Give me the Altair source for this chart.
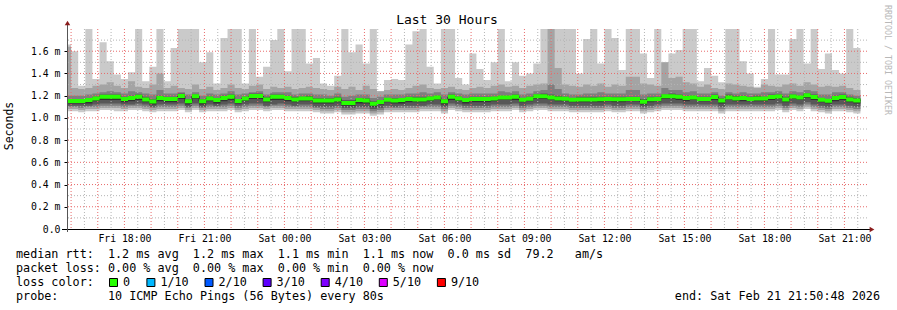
import altair as alt
import pandas as pd

# ---------------- data (values in ms) ----------------
MEDIAN = [1.153,1.153,1.153,1.160,1.175,1.190,1.190,1.190,1.170,1.180,
          1.190,1.166,1.148,1.178,1.171,1.171,1.198,1.150,1.195,1.150,
          1.175,1.160,1.178,1.190,1.153,1.175,1.198,1.198,1.166,1.190,
          1.190,1.180,1.166,1.175,1.175,1.157,1.157,1.157,1.166,1.135,
          1.135,1.160,1.157,1.127,1.142,1.163,1.157,1.160,1.169,1.166,
          1.166,1.175,1.184,1.150,1.190,1.175,1.160,1.169,1.170,1.169,
          1.175,1.184,1.184,1.190,1.163,1.172,1.195,1.195,1.184,1.175,
          1.172,1.163,1.166,1.166,1.166,1.168,1.171,1.168,1.168,1.171,
          1.171,1.145,1.168,1.171,1.195,1.195,1.190,1.178,1.184,1.171,
          1.171,1.187,1.157,1.184,1.175,1.178,1.171,1.175,1.175,1.187,
          1.193,1.166,1.193,1.184,1.204,1.187,1.163,1.154,1.178,1.187,
          1.166,1.157]

P10 = [1.66,1.60,1.29,1.80,1.35,1.68,1.51,1.39,1.35,1.41,
       1.80,1.33,1.46,1.80,1.33,1.63,1.80,1.80,1.80,1.50,
       1.59,1.31,1.72,1.80,1.80,1.31,1.80,1.37,1.46,1.70,
       1.80,1.42,1.80,1.80,1.49,1.54,1.31,1.29,1.38,1.80,
       1.59,1.66,1.49,1.80,1.24,1.34,1.35,1.34,1.66,1.78,
       1.80,1.46,1.31,1.80,1.80,1.36,1.30,1.58,1.44,1.34,
       1.50,1.80,1.33,1.50,1.38,1.40,1.49,1.80,1.80,1.80,
       1.80,1.80,1.40,1.71,1.80,1.49,1.80,1.72,1.43,1.80,
       1.80,1.58,1.36,1.80,1.50,1.58,1.61,1.80,1.80,1.33,
       1.45,1.38,1.32,1.80,1.80,1.51,1.40,1.28,1.35,1.80,
       1.39,1.39,1.71,1.80,1.49,1.80,1.44,1.58,1.43,1.40,
       1.80,1.63]

P9 = [1.64,1.27,1.26,1.27,1.29,1.30,1.32,1.29,1.27,1.33,
      1.28,1.27,1.30,1.40,1.27,1.29,1.27,1.26,1.30,1.26,
      1.28,1.25,1.27,1.30,1.27,1.26,1.29,1.30,1.26,1.28,
      1.27,1.28,1.26,1.27,1.28,1.27,1.26,1.25,1.28,1.26,
      1.28,1.25,1.29,1.26,1.24,1.25,1.26,1.25,1.27,1.29,
      1.30,1.27,1.26,1.27,1.28,1.26,1.25,1.27,1.28,1.27,
      1.29,1.30,1.28,1.29,1.27,1.29,1.30,1.31,1.80,1.45,
      1.30,1.29,1.28,1.30,1.29,1.31,1.28,1.30,1.29,1.37,
      1.37,1.31,1.30,1.29,1.50,1.36,1.37,1.32,1.31,1.28,
      1.30,1.27,1.26,1.31,1.30,1.29,1.28,1.27,1.30,1.29,
      1.28,1.30,1.31,1.29,1.32,1.30,1.28,1.29,1.28,1.29,
      1.27,1.25]

P8 = [1.20,1.20,1.20,1.21,1.22,1.23,1.24,1.23,1.22,1.24,
      1.23,1.22,1.21,1.25,1.22,1.22,1.23,1.21,1.23,1.20,
      1.22,1.21,1.22,1.24,1.21,1.22,1.23,1.24,1.21,1.23,
      1.23,1.23,1.21,1.22,1.22,1.21,1.21,1.20,1.22,1.19,
      1.20,1.21,1.21,1.18,1.19,1.21,1.21,1.21,1.22,1.22,
      1.23,1.22,1.23,1.21,1.23,1.22,1.21,1.22,1.22,1.22,
      1.22,1.24,1.23,1.24,1.21,1.22,1.24,1.25,1.30,1.26,
      1.22,1.21,1.21,1.22,1.22,1.23,1.22,1.22,1.22,1.25,
      1.25,1.21,1.22,1.22,1.27,1.25,1.25,1.23,1.24,1.22,
      1.22,1.23,1.20,1.23,1.22,1.23,1.22,1.22,1.23,1.23,
      1.24,1.22,1.24,1.23,1.25,1.24,1.21,1.21,1.23,1.23,
      1.21,1.20]

P7 = [1.17,1.17,1.17,1.18,1.19,1.21,1.21,1.21,1.19,1.20,
      1.21,1.19,1.17,1.20,1.19,1.19,1.22,1.17,1.21,1.17,
      1.19,1.18,1.20,1.21,1.17,1.19,1.22,1.22,1.19,1.21,
      1.21,1.20,1.19,1.19,1.20,1.18,1.18,1.18,1.19,1.16,
      1.16,1.18,1.18,1.15,1.16,1.18,1.18,1.18,1.19,1.19,
      1.19,1.19,1.20,1.17,1.21,1.19,1.18,1.19,1.19,1.19,
      1.19,1.20,1.20,1.21,1.18,1.19,1.21,1.22,1.21,1.20,
      1.19,1.18,1.19,1.19,1.19,1.19,1.19,1.19,1.19,1.19,
      1.19,1.17,1.19,1.19,1.21,1.22,1.21,1.20,1.20,1.19,
      1.19,1.21,1.18,1.21,1.20,1.20,1.19,1.20,1.19,1.21,
      1.21,1.19,1.21,1.20,1.22,1.21,1.18,1.17,1.20,1.21,
      1.19,1.18]

P6 = [1.16,1.16,1.16,1.17,1.18,1.20,1.20,1.20,1.18,1.19,
      1.20,1.18,1.16,1.19,1.18,1.18,1.21,1.16,1.20,1.16,
      1.18,1.17,1.19,1.20,1.16,1.18,1.21,1.21,1.18,1.20,
      1.20,1.19,1.18,1.18,1.19,1.17,1.17,1.17,1.18,1.15,
      1.15,1.17,1.17,1.14,1.15,1.17,1.17,1.17,1.18,1.18,
      1.18,1.18,1.19,1.16,1.20,1.18,1.17,1.18,1.18,1.18,
      1.18,1.19,1.19,1.20,1.17,1.18,1.20,1.21,1.19,1.19,
      1.18,1.17,1.18,1.18,1.18,1.18,1.18,1.18,1.18,1.18,
      1.18,1.16,1.18,1.18,1.20,1.21,1.20,1.19,1.19,1.18,
      1.18,1.20,1.17,1.19,1.19,1.19,1.18,1.19,1.18,1.20,
      1.20,1.18,1.20,1.19,1.21,1.20,1.17,1.16,1.19,1.20,
      1.18,1.17]

P5 = [1.13,1.13,1.13,1.13,1.15,1.16,1.16,1.16,1.14,1.15,
      1.16,1.14,1.12,1.15,1.14,1.14,1.17,1.12,1.17,1.12,
      1.15,1.13,1.15,1.16,1.13,1.15,1.17,1.17,1.14,1.16,
      1.16,1.15,1.14,1.15,1.15,1.13,1.13,1.13,1.14,1.11,
      1.11,1.13,1.13,1.10,1.12,1.14,1.13,1.13,1.14,1.14,
      1.14,1.15,1.16,1.12,1.16,1.15,1.13,1.14,1.14,1.14,
      1.15,1.16,1.16,1.16,1.14,1.15,1.17,1.17,1.16,1.15,
      1.15,1.14,1.14,1.14,1.14,1.14,1.15,1.14,1.14,1.15,
      1.15,1.12,1.14,1.15,1.17,1.17,1.16,1.15,1.16,1.15,
      1.15,1.16,1.13,1.16,1.15,1.15,1.15,1.15,1.15,1.16,
      1.17,1.14,1.17,1.16,1.18,1.16,1.14,1.13,1.15,1.16,
      1.14,1.13]

P4 = [1.11,1.11,1.11,1.11,1.12,1.13,1.13,1.13,1.12,1.12,
      1.13,1.12,1.10,1.12,1.12,1.12,1.13,1.10,1.13,1.10,
      1.12,1.11,1.12,1.13,1.11,1.12,1.13,1.13,1.11,1.12,
      1.13,1.12,1.11,1.12,1.12,1.10,1.10,1.10,1.11,1.09,
      1.09,1.10,1.10,1.08,1.09,1.11,1.10,1.11,1.11,1.11,
      1.11,1.12,1.12,1.10,1.13,1.12,1.11,1.11,1.11,1.11,
      1.12,1.12,1.12,1.13,1.11,1.12,1.13,1.13,1.12,1.12,
      1.12,1.11,1.11,1.11,1.11,1.11,1.12,1.11,1.11,1.12,
      1.12,1.10,1.11,1.12,1.13,1.13,1.13,1.12,1.12,1.12,
      1.12,1.12,1.10,1.12,1.12,1.12,1.12,1.12,1.12,1.12,
      1.13,1.11,1.13,1.12,1.14,1.12,1.11,1.10,1.12,1.12,
      1.11,1.10]

P3 = [1.10,1.10,1.09,1.10,1.10,1.11,1.11,1.11,1.10,1.11,
      1.11,1.10,1.09,1.10,1.10,1.10,1.11,1.09,1.11,1.09,
      1.10,1.10,1.10,1.11,1.09,1.10,1.11,1.11,1.10,1.11,
      1.11,1.10,1.10,1.10,1.10,1.09,1.08,1.08,1.09,1.07,
      1.07,1.08,1.08,1.06,1.07,1.09,1.09,1.09,1.09,1.09,
      1.10,1.10,1.10,1.08,1.11,1.10,1.09,1.09,1.09,1.09,
      1.10,1.10,1.10,1.11,1.09,1.10,1.11,1.11,1.10,1.10,
      1.10,1.09,1.09,1.09,1.09,1.09,1.10,1.09,1.09,1.10,
      1.10,1.08,1.09,1.10,1.11,1.11,1.11,1.10,1.10,1.10,
      1.10,1.10,1.08,1.10,1.10,1.10,1.10,1.10,1.10,1.10,
      1.11,1.09,1.11,1.10,1.12,1.10,1.09,1.08,1.10,1.10,
      1.09,1.08]

P2 = [1.08,1.08,1.07,1.08,1.08,1.09,1.09,1.09,1.08,1.09,
      1.09,1.08,1.07,1.08,1.08,1.08,1.09,1.07,1.09,1.07,
      1.08,1.08,1.08,1.09,1.07,1.08,1.09,1.09,1.08,1.09,
      1.09,1.08,1.08,1.08,1.08,1.07,1.06,1.06,1.07,1.05,
      1.05,1.06,1.06,1.04,1.05,1.07,1.07,1.07,1.07,1.07,
      1.08,1.08,1.08,1.06,1.09,1.08,1.07,1.07,1.07,1.07,
      1.08,1.08,1.08,1.09,1.07,1.08,1.09,1.09,1.08,1.08,
      1.08,1.07,1.07,1.07,1.07,1.07,1.08,1.07,1.07,1.08,
      1.08,1.06,1.07,1.08,1.09,1.09,1.09,1.08,1.08,1.08,
      1.08,1.08,1.06,1.08,1.08,1.08,1.08,1.08,1.08,1.08,
      1.09,1.07,1.09,1.08,1.10,1.08,1.07,1.06,1.08,1.08,
      1.07,1.06]

P1 = [1.06,1.06,1.05,1.06,1.06,1.07,1.07,1.06,1.06,1.07,
      1.07,1.06,1.05,1.06,1.06,1.06,1.07,1.05,1.07,1.05,
      1.06,1.06,1.06,1.07,1.05,1.06,1.07,1.07,1.06,1.07,
      1.07,1.06,1.06,1.06,1.06,1.05,1.04,1.04,1.05,1.03,
      1.03,1.04,1.04,1.02,1.03,1.05,1.05,1.05,1.05,1.05,
      1.06,1.06,1.06,1.04,1.07,1.06,1.05,1.05,1.05,1.05,
      1.06,1.06,1.06,1.07,1.05,1.06,1.07,1.07,1.06,1.06,
      1.06,1.05,1.05,1.05,1.05,1.05,1.06,1.05,1.05,1.06,
      1.06,1.04,1.05,1.06,1.07,1.07,1.07,1.06,1.06,1.06,
      1.06,1.06,1.04,1.06,1.06,1.06,1.06,1.06,1.06,1.06,
      1.07,1.05,1.07,1.06,1.08,1.06,1.05,1.04,1.06,1.06,
      1.05,1.04]

Y_TICKS = [0.0, 0.2, 0.4, 0.6, 0.8, 1.0, 1.2, 1.4, 1.6]
LOSS_LABELS = ["0", "1/10", "2/10", "3/10", "4/10", "5/10", "9/10"]
LOSS_COLORS = ["#26ff00", "#00b8ff", "#0059ff", "#5e00ff", "#7e00ff", "#dd00ff", "#ff0000"]

TITLE = "Last 30 Hours"
Y_TITLE = "Seconds"
WATERMARK = "RRDTOOL / TOBI OETIKER"
LINE1 = "median rtt:  1.2 ms avg  1.2 ms max  1.1 ms min  1.1 ms now  0.0 ms sd  79.2   am/s"
LINE2 = "packet loss: 0.00 % avg  0.00 % max  0.00 % min  0.00 % now"
LINE3 = "loss color:"
LINE4 = "probe:       10 ICMP Echo Pings (56 Bytes) every 80s"
END_TEXT = "end: Sat Feb 21 21:50:48 2026"

# ---------------- build tables ----------------
N = len(MEDIAN)
step = pd.Timedelta(minutes=16)
t_first = pd.Timestamp("2026-02-20 15:44:00")
t_align = pd.Timestamp("2026-02-20 16:00:00")
starts = [t_first] + [t_align + step * (k - 1) for k in range(1, N)]
times = starts + [starts[-1] + step]
fmt = "%Y-%m-%dT%H:%M:%S"

series = {"p1": P1, "p2": P2, "p3": P3, "p4": P4, "p5": P5, "p6": P6,
          "p7": P7, "p8": P8, "p9": P9, "p10": P10, "m": MEDIAN}
rows = []
for i, t in enumerate(times):
    j = min(i, N - 1)
    r = {"t": t.strftime(fmt)}
    for k, v in series.items():
        r[k] = v[j]
    rows.append(r)
df = pd.DataFrame(rows)

hours = pd.date_range("2026-02-20 16:00", "2026-02-21 21:00", freq="1h")
halves = pd.date_range("2026-02-20 16:30", "2026-02-21 21:30", freq="1h")
vmajor = pd.DataFrame({"t": [h.strftime(fmt) for h in hours]})
vminor = pd.DataFrame({"t": [h.strftime(fmt) for h in halves]})
hmajor = pd.DataFrame({"v": [0.2, 0.4, 0.6, 0.8, 1.0, 1.2, 1.4, 1.6]})
hminor = pd.DataFrame({"v": [0.1, 0.3, 0.5, 0.7, 0.9, 1.1, 1.3, 1.5, 1.7]})

MONO = "DejaVu Sans Mono"


def dt(d, h, m=0, s=0):
    return alt.DateTime(year=2026, month=2, date=d, hours=h, minutes=m, seconds=s)


xscale = alt.Scale(domain=[dt(20, 15, 50, 48), dt(21, 21, 50, 48)])
yscale = alt.Scale(domain=[0, 1.8], nice=False, zero=False)
xvals = [dt(20, 18), dt(20, 21)] + [dt(21, h) for h in (0, 3, 6, 9, 12, 15, 18, 21)]

xaxis = alt.Axis(values=xvals, format="%a %H:%M", labelFont=MONO, labelFontSize=9.8,
                 labelColor="#000000", domain=False, ticks=False, grid=False,
                 labelPadding=4, title=None, labelFlush=False, labelOverlap=False)
yaxis = alt.Axis(values=Y_TICKS,
                 labelExpr="datum.value == 0 ? '0.0\u00a0\u00a0' : format(datum.value, '.1f') + '\u00a0m'",
                 labelFont=MONO, labelFontSize=9.8, labelColor="#000000", domain=False,
                 tickSize=3, tickColor="#000000", grid=False, labelPadding=4, title=None,
                 labelFlush=False, labelOverlap=False)

X = lambda f: alt.X(f, scale=xscale, axis=xaxis)
Y = lambda f: alt.Y(f, scale=yscale, axis=yaxis)

base = alt.Chart(df)
layers = []
bands = [("p1", "p10", "#cacaca"), ("p2", "p9", "#a4a4a4"), ("p3", "p8", "#7e7e7e"),
         ("p4", "p7", "#585858"), ("p5", "p6", "#323232")]
for lo, hi, col in bands:
    layers.append(base.mark_area(interpolate="step-after", color=col, clip=True).encode(
        x=X("t:T"), y=Y(f"{lo}:Q"), y2=alt.Y2(f"{hi}:Q")))

# grid (drawn over the smoke, as rrdtool does)
layers.append(alt.Chart(hminor).mark_rule(color="#b4b4b4", strokeDash=[1, 2], strokeWidth=1).encode(
    y=Y("v:Q")))
layers.append(alt.Chart(vminor).mark_rule(color="#b4b4b4", strokeDash=[1, 2], strokeWidth=1).encode(
    x=X("t:T")))
layers.append(alt.Chart(hmajor).mark_rule(color="#e86a6a", strokeDash=[1, 2], strokeWidth=1).encode(
    y=Y("v:Q")))
layers.append(alt.Chart(vmajor).mark_rule(color="#e86a6a", strokeDash=[1, 2], strokeWidth=1).encode(
    x=X("t:T")))

# median: thin dark step line + loss-coloured band
layers.append(base.mark_line(interpolate="step-after", color="#202020", strokeWidth=1, clip=True).encode(
    x=X("t:T"), y=Y("m:Q")))
layers.append(base.transform_calculate(mlo="datum.m - 0.018", mhi="datum.m + 0.018")
              .mark_area(interpolate="step-after", color=LOSS_COLORS[0], clip=True).encode(
    x=X("t:T"), y=Y("mlo:Q"), y2=alt.Y2("mhi:Q")))

one = alt.Chart(pd.DataFrame({"a": [0]}))

# axes lines and arrows
layers.append(one.mark_rule(color="#000000", strokeWidth=1).encode(
    x=alt.value(-5), x2=alt.value(803), y=alt.value(200.5)))
layers.append(one.mark_rule(color="#555555", strokeWidth=1).encode(
    x=alt.value(0.5), y=alt.value(-4), y2=alt.value(203)))
layers.append(one.mark_point(shape="triangle-up", filled=True, color="#8b1c1c", size=30, opacity=1).encode(
    x=alt.value(0.5), y=alt.value(-6)))
layers.append(one.mark_point(shape="triangle-right", filled=True, color="#8b1c1c", size=30, opacity=1).encode(
    x=alt.value(805), y=alt.value(200.5)))


def txt(s, x, y, size=11.75, align="left", angle=0, color="#000000"):
    kw = dict(text=s.replace(" ", "\u00a0"), font=MONO, fontSize=size, align=align,
              baseline="middle", color=color)
    if angle:
        kw["angle"] = angle
    return one.mark_text(**kw).encode(x=alt.value(x), y=alt.value(y))


layers.append(txt(TITLE, 380, -9, size=13, align="center"))
layers.append(txt(Y_TITLE, -57, 97, size=11.5, align="center", angle=270))
layers.append(txt(WATERMARK, 819.5, 31, size=8.3, align="center", angle=90, color="#b8b8b8"))
layers.append(txt(LINE1, -51, 225))
layers.append(txt(LINE2, -51, 239))
layers.append(txt(LINE3, -51, 253))
layers.append(txt(LINE4, -51, 267))
layers.append(txt(END_TEXT, 813, 267, align="right"))

# loss colour legend entries
bx = 109 - 67
for lab, col in zip(LOSS_LABELS, LOSS_COLORS):
    layers.append(one.mark_rect(color=col, stroke="#000000", strokeWidth=1).encode(
        x=alt.value(bx + 0.5), x2=alt.value(bx + 8.5), y=alt.value(249.5), y2=alt.value(257.5)))
    layers.append(txt(lab, bx + 14, 253))
    bx += 30.5 + 6.9 * len(lab)

chart = alt.layer(*layers).properties(
    width=800, height=200,
    padding={"left": 67, "top": 29, "right": 30, "bottom": 81},
    autosize=alt.AutoSizeParams(type="none"),
    background="white",
).configure_view(stroke=None)

chart.save("out.html", embed_options={"renderer": "svg", "actions": False})
